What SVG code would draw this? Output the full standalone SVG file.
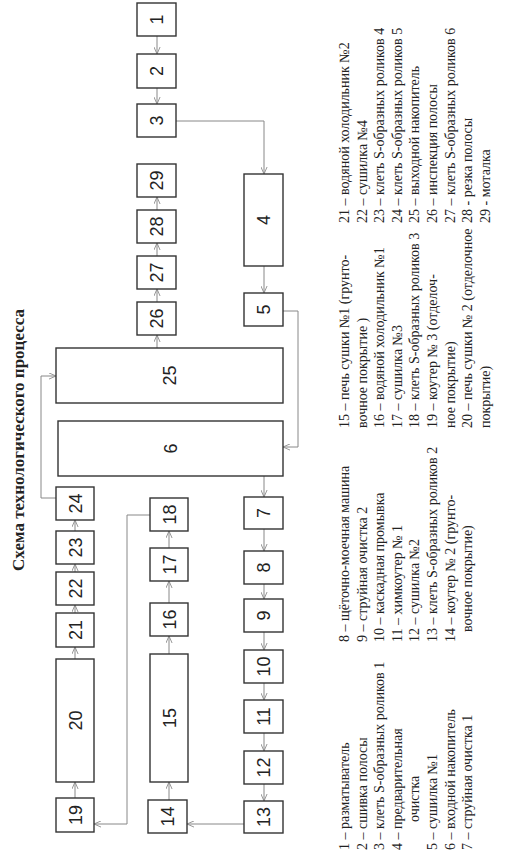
<svg xmlns="http://www.w3.org/2000/svg" width="516" height="865" viewBox="0 0 516 865">
<style>
.b rect{fill:#fff;stroke:#333;stroke-width:1.4}
.b text{font-family:"Liberation Sans",Arial,sans-serif;font-size:18px;fill:#222;text-anchor:middle}
.c path{fill:none;stroke:#888;stroke-width:1}
.lg{font-family:"Liberation Serif","Times New Roman",serif;font-size:14px;fill:#222}
.t{font-family:"Liberation Serif","Times New Roman",serif;font-size:17px;font-weight:bold;fill:#222;text-anchor:middle}
</style>
<defs>
<marker id="a" viewBox="0 0 8 8" refX="8" refY="4" markerWidth="7" markerHeight="7" markerUnits="userSpaceOnUse" orient="auto">
<path d="M0,0.5 L8,4 L0,7.5" fill="none" stroke="#888" stroke-width="1"/>
</marker>
</defs>
<rect width="516" height="865" fill="#fff"/>
<text class="t" transform="translate(24,440) rotate(-90)">Схема технологического процесса</text>

<g class="c" marker-end="url(#a)">
<path d="M157,36 V54"/>
<path d="M157,88 V104"/>
<path d="M176,121 H264 V174"/>
<path d="M264,266 V293"/>
<path d="M283,311 H298 V447 H283"/>
<path d="M264,476 V497"/>
<path d="M264,529 V551"/>
<path d="M264,584 V599"/>
<path d="M264,632 V650"/>
<path d="M264,683 V700"/>
<path d="M264,733 V751"/>
<path d="M264,784 V801"/>
<path d="M244,824 H187"/>
<path d="M169,800 V782"/>
<path d="M169,654 V636"/>
<path d="M169,603 V581"/>
<path d="M169,548 V531"/>
<path d="M150,515 H127 V824 H94"/>
<path d="M75,798 V782"/>
<path d="M75,659 V647"/>
<path d="M75,613 V605"/>
<path d="M75,572 V564"/>
<path d="M75,531 V520"/>
<path d="M56,498 H41 V376 H56"/>
<path d="M157,348 V335"/>
<path d="M157,302 V289"/>
<path d="M157,256 V243"/>
<path d="M157,210 V197"/>
</g>

<g class="b">
<g id="n1"><rect x="137" y="3" width="39" height="33"/><text transform="translate(163,19.5) rotate(-90)">1</text></g>
<g id="n2"><rect x="137" y="54" width="39" height="34"/><text transform="translate(163,71) rotate(-90)">2</text></g>
<g id="n3"><rect x="137" y="104" width="39" height="33"/><text transform="translate(163,120.5) rotate(-90)">3</text></g>
<g id="n4"><rect x="244" y="174" width="39" height="92"/><text transform="translate(270,220) rotate(-90)">4</text></g>
<g id="n5"><rect x="244" y="293" width="39" height="33"/><text transform="translate(270,309.5) rotate(-90)">5</text></g>
<g id="n6"><rect x="58" y="421" width="225" height="55"/><text transform="translate(177,448.5) rotate(-90)">6</text></g>
<g id="n7"><rect x="244" y="497" width="39" height="32"/><text transform="translate(270,513) rotate(-90)">7</text></g>
<g id="n8"><rect x="244" y="551" width="39" height="33"/><text transform="translate(270,567.5) rotate(-90)">8</text></g>
<g id="n9"><rect x="244" y="599" width="39" height="33"/><text transform="translate(270,615.5) rotate(-90)">9</text></g>
<g id="n10"><rect x="244" y="650" width="39" height="33"/><text transform="translate(270,666.5) rotate(-90)">10</text></g>
<g id="n11"><rect x="244" y="700" width="39" height="33"/><text transform="translate(270,716.5) rotate(-90)">11</text></g>
<g id="n12"><rect x="244" y="751" width="39" height="33"/><text transform="translate(270,767.5) rotate(-90)">12</text></g>
<g id="n13"><rect x="244" y="801" width="39" height="32"/><text transform="translate(270,817) rotate(-90)">13</text></g>
<g id="n14"><rect x="148" y="800" width="39" height="33"/><text transform="translate(174,816.5) rotate(-90)">14</text></g>
<g id="n15"><rect x="150" y="654" width="38" height="128"/><text transform="translate(175.5,718) rotate(-90)">15</text></g>
<g id="n16"><rect x="150" y="603" width="38" height="33"/><text transform="translate(175.5,619.5) rotate(-90)">16</text></g>
<g id="n17"><rect x="150" y="548" width="38" height="33"/><text transform="translate(175.5,564.5) rotate(-90)">17</text></g>
<g id="n18"><rect x="150" y="498" width="38" height="33"/><text transform="translate(175.5,514.5) rotate(-90)">18</text></g>
<g id="n19"><rect x="56" y="798" width="38" height="34"/><text transform="translate(81.5,815) rotate(-90)">19</text></g>
<g id="n20"><rect x="56" y="659" width="38" height="123"/><text transform="translate(81.5,720.5) rotate(-90)">20</text></g>
<g id="n21"><rect x="56" y="613" width="38" height="34"/><text transform="translate(81.5,630) rotate(-90)">21</text></g>
<g id="n22"><rect x="56" y="572" width="38" height="33"/><text transform="translate(81.5,588.5) rotate(-90)">22</text></g>
<g id="n23"><rect x="56" y="531" width="38" height="33"/><text transform="translate(81.5,547.5) rotate(-90)">23</text></g>
<g id="n24"><rect x="56" y="487" width="38" height="33"/><text transform="translate(81.5,503.5) rotate(-90)">24</text></g>
<g id="n25"><rect x="56" y="348" width="227" height="55"/><text transform="translate(176,375.5) rotate(-90)">25</text></g>
<g id="n26"><rect x="137" y="302" width="39" height="33"/><text transform="translate(163,318.5) rotate(-90)">26</text></g>
<g id="n27"><rect x="137" y="256" width="39" height="33"/><text transform="translate(163,272.5) rotate(-90)">27</text></g>
<g id="n28"><rect x="137" y="210" width="39" height="33"/><text transform="translate(163,226.5) rotate(-90)">28</text></g>
<g id="n29"><rect x="137" y="164" width="39" height="33"/><text transform="translate(163,180.5) rotate(-90)">29</text></g>
</g>

<g id="legend" class="lg">
<text transform="translate(349,850) rotate(-90)">1 – разматыватель</text>
<text transform="translate(366.6,850) rotate(-90)">2 – сшивка полосы</text>
<text transform="translate(384.2,850) rotate(-90)">3 – клеть S-образных роликов 1</text>
<text transform="translate(401.8,850) rotate(-90)">4 – предварительная</text>
<text transform="translate(419.4,822) rotate(-90)">очистка</text>
<text transform="translate(437,850) rotate(-90)">5 – сушилка №1</text>
<text transform="translate(454.6,850) rotate(-90)">6 – входной накопитель</text>
<text transform="translate(472.2,850) rotate(-90)">7 – струйная очистка 1</text>

<text transform="translate(349,642) rotate(-90)">8 – щёточно-моечная машина</text>
<text transform="translate(366.6,642) rotate(-90)">9 – струйная очистка 2</text>
<text transform="translate(384.2,642) rotate(-90)">10 – каскадная промывка</text>
<text transform="translate(401.8,642) rotate(-90)">11 – химкоутер № 1</text>
<text transform="translate(419.4,642) rotate(-90)">12 – сушилка №2</text>
<text transform="translate(437,642) rotate(-90)">13 – клеть S-образных роликов 2</text>
<text transform="translate(454.6,642) rotate(-90)">14 – коутер № 2 (грунто-</text>
<text transform="translate(472.2,632) rotate(-90)">вочное покрытие)</text>

<text transform="translate(349,428) rotate(-90)">15 – печь сушки №1 (грунто-</text>
<text transform="translate(366.6,428) rotate(-90)">вочное покрытие )</text>
<text transform="translate(384.2,428) rotate(-90)">16 – водяной холодильник №1</text>
<text transform="translate(401.8,428) rotate(-90)">17 – сушилка №3</text>
<text transform="translate(419.4,428) rotate(-90)">18 – клеть S-образных роликов 3</text>
<text transform="translate(437,428) rotate(-90)">19 – коутер № 3 (отделоч-</text>
<text transform="translate(454.6,428) rotate(-90)">ное покрытие)</text>
<text transform="translate(472.2,428) rotate(-90)">20 – печь сушки № 2 (отделочное</text>
<text transform="translate(489.8,428) rotate(-90)">покрытие)</text>

<text transform="translate(349,223) rotate(-90)">21 – водяной холодильник №2</text>
<text transform="translate(366.6,223) rotate(-90)">22 – сушилка №4</text>
<text transform="translate(384.2,223) rotate(-90)">23 – клеть S-образных роликов 4</text>
<text transform="translate(401.8,223) rotate(-90)">24 – клеть S-образных роликов 5</text>
<text transform="translate(419.4,223) rotate(-90)">25 – выходной накопитель</text>
<text transform="translate(437,223) rotate(-90)">26 – инспекция полосы</text>
<text transform="translate(454.6,223) rotate(-90)">27 – клеть S-образных роликов 6</text>
<text transform="translate(472.2,223) rotate(-90)">28 - резка полосы</text>
<text transform="translate(489.8,223) rotate(-90)">29 - моталка</text>
</g>
</svg>
